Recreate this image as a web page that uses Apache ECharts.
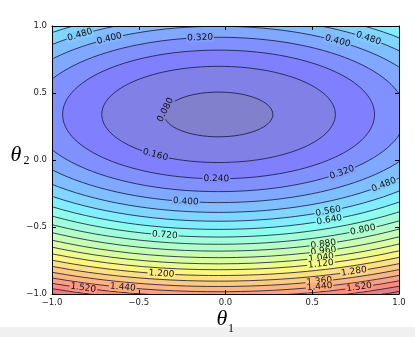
<!DOCTYPE html>
<html><head><meta charset="utf-8">
<script src="https://cdn.jsdelivr.net/npm/echarts@6/dist/echarts.min.js"></script>
<style>html,body{margin:0;padding:0;background:#fff}#c{width:415px;height:337px}</style>
</head><body><div id="c"></div>
<script>
// ---------- data ----------
const xTickValues = [-1.0, -0.5, 0.0, 0.5, 1.0];
const xTickLabels = ['\u22121.0', '\u22120.5', '0.0', '0.5', '1.0'];
const yTickValues = [-1.0, -0.5, 0.0, 0.5, 1.0];
const yTickLabels = ['\u22121.0', '\u22120.5', '0.0', '0.5', '1.0'];
const xName = ['\u03b8', '1'];
const yName = ['\u03b8', '2'];

// contour levels of the cost surface and the elliptical contour extents (theta units)
const lineLevels = [0.08, 0.16, 0.24, 0.32, 0.40, 0.48, 0.56, 0.64, 0.72, 0.80, 0.88,
                    0.96, 1.04, 1.12, 1.20, 1.28, 1.36, 1.44, 1.52, 1.60, 1.68];
const topLevel = 1.76;
const levelStep = 0.08;
const contourCenter = [-0.04, 0.34];
const semiAxisX = [0.313, 0.673, 0.899, 1.079, 1.233, 1.370, 1.494, 1.608, 1.715, 1.816, 1.911,
                   2.002, 2.089, 2.173, 2.253, 2.330, 2.406, 2.478, 2.549, 2.618, 2.685];
const semiAxisY = [0.167, 0.359, 0.480, 0.576, 0.658, 0.731, 0.797, 0.858, 0.915, 0.969, 1.020,
                   1.069, 1.115, 1.159, 1.202, 1.244, 1.284, 1.323, 1.360, 1.397, 1.433];

// inline contour labels: level and where they sit
const labelLevel  = [0.48, 0.40, 0.32, 0.40, 0.48, 0.08, 0.16, 0.24, 0.32, 0.48, 0.40, 0.56, 0.64,
                     0.72, 0.80, 0.88, 0.96, 1.04, 1.12, 1.20, 1.28, 1.36, 1.44, 1.52, 1.44, 1.52];
const labelTheta1 = [-0.867, -0.683, -0.147, 0.648, 0.827, -0.352, -0.406, -0.053, 0.683, 0.929, -0.233, 0.599, 0.599,
                     -0.354, 0.798, 0.568, 0.564, 0.554, 0.554, -0.374, 0.750, 0.545, 0.545, 0.775, -0.598, -0.829];
const labelTheta2 = [0.955, 0.918, 0.918, 0.888, 0.910, 0.375, 0.037, -0.149, -0.100, -0.194, -0.323, -0.390, -0.448,
                     -0.572, -0.527, -0.634, -0.677, -0.734, -0.784, -0.866, -0.846, -0.915, -0.952, -0.957, -0.965, -0.970];

// ---------- styling helpers ----------
function interp(t, pts) {
  for (let i = 1; i < pts.length; i++) {
    if (t <= pts[i][0]) {
      const a = pts[i - 1], b = pts[i];
      return a[1] + (b[1] - a[1]) * (t - a[0]) / (b[0] - a[0]);
    }
  }
  return pts[pts.length - 1][1];
}
function jet(t) {
  t = Math.max(0, Math.min(1, t));
  return [
    interp(t, [[0, 0], [0.35, 0], [0.66, 1], [0.89, 1], [1, 0.5]]),
    interp(t, [[0, 0], [0.125, 0], [0.375, 1], [0.64, 1], [0.91, 0], [1, 0]]),
    interp(t, [[0, 0.5], [0.11, 1], [0.34, 1], [0.65, 0], [1, 0]])
  ];
}
const ALPHA = 0.5;
function bandRGB(mid) {
  return jet(mid / topLevel).map(v => Math.round(255 * (1 - ALPHA) + 255 * v * ALPHA));
}
function rgb(c) { return 'rgb(' + c.join(',') + ')'; }
function bandColor(upper) { return rgb(bandRGB(upper - levelStep / 2)); }
function mixColor(L) {
  const a = bandRGB(L - levelStep / 2), b = bandRGB(L + levelStep / 2);
  return rgb(a.map((v, i) => Math.round((v + b[i]) / 2)));
}

const ellipseData = lineLevels.map((L, i) => [contourCenter[0], contourCenter[1], semiAxisX[i], semiAxisY[i], L, i]);
const labelData = labelLevel.map((L, i) => [labelTheta1[i], labelTheta2[i], lineLevels.findIndex(v => Math.abs(v - L) < 1e-6)]);

function clipRect(params) {
  const cs = params.coordSys;
  return { type: 'rect', shape: { x: cs.x, y: cs.y, width: cs.width, height: cs.height } };
}

const chart = echarts.init(document.getElementById('c'));
const axisCommon = {
  type: 'value', min: -1, max: 1, interval: 0.5, z: 10,
  axisLine: { show: true, onZero: false, lineStyle: { color: '#000', width: 1 } },
  axisTick: { show: true, inside: true, length: 4, lineStyle: { color: '#000', width: 1 } },
  splitLine: { show: false }
};
const labelFont = { fontSize: 8.5, fontFamily: 'DejaVu Sans', color: '#222' };
chart.setOption({
  animation: false,
  backgroundColor: '#fff',
  grid: { left: 52, top: 26, right: 16, bottom: 43, show: true, backgroundColor: bandColor(topLevel), borderWidth: 0 },
  xAxis: [
    Object.assign({}, axisCommon, { position: 'bottom',
      axisLabel: Object.assign({ margin: 4, formatter: v => xTickLabels[xTickValues.findIndex(t => Math.abs(t - v) < 1e-6)] }, labelFont) }),
    Object.assign({}, axisCommon, { position: 'top', axisLabel: { show: false } })
  ],
  yAxis: [
    Object.assign({}, axisCommon, { position: 'left',
      axisLabel: Object.assign({ margin: 5, formatter: v => yTickLabels[yTickValues.findIndex(t => Math.abs(t - v) < 1e-6)] }, labelFont) }),
    Object.assign({}, axisCommon, { position: 'right', axisLabel: { show: false } })
  ],
  series: [
    { // filled bands
      type: 'custom', z: 1, clip: true, silent: true,
      data: ellipseData,
      encode: { x: 0, y: 1 },
      renderItem(params, api) {
        const c = api.coord([api.value(0), api.value(1)]);
        const s = api.size([api.value(2), api.value(3)]);
        const L = api.value(4);
        return { type: 'group', clipPath: clipRect(params), children: [{
          type: 'ellipse', z2: Math.round((3 - L) * 100),
          shape: { cx: c[0], cy: c[1], rx: s[0], ry: s[1] },
          style: { fill: bandColor(L), stroke: null }
        }] };
      }
    },
    { // contour lines
      type: 'custom', z: 2, clip: true, silent: true,
      data: ellipseData,
      encode: { x: 0, y: 1 },
      renderItem(params, api) {
        const c = api.coord([api.value(0), api.value(1)]);
        const s = api.size([api.value(2), api.value(3)]);
        return { type: 'group', clipPath: clipRect(params), children: [{
          type: 'ellipse',
          shape: { cx: c[0], cy: c[1], rx: s[0], ry: s[1] },
          style: { fill: 'none', stroke: '#15153a', lineWidth: 0.8 }
        }] };
      }
    },
    { // inline labels
      type: 'custom', z: 3, clip: true, silent: true,
      data: labelData,
      encode: { x: 0, y: 1 },
      renderItem(params, api) {
        const k = api.value(2);
        const L = lineLevels[k];
        const c = api.coord(contourCenter);
        const s = api.size([semiAxisX[k], semiAxisY[k]]);
        const p = api.coord([api.value(0), api.value(1)]);
        let u = (p[0] - c[0]) / s[0], v = (p[1] - c[1]) / s[1];
        const n = Math.hypot(u, v); u /= n; v /= n;
        const x = c[0] + s[0] * u, y = c[1] + s[1] * v;
        const tx = -s[0] * v, ty = s[1] * u;
        let rot = -Math.atan2(ty, tx);
        while (rot > Math.PI / 2) rot -= Math.PI;
        while (rot < -Math.PI / 2) rot += Math.PI;
        return { type: 'group', clipPath: clipRect(params), children: [{
          type: 'text', x: x, y: y, rotation: rot,
          style: { text: L.toFixed(3), font: '9px "DejaVu Sans"', fill: '#111',
                   align: 'center', verticalAlign: 'middle',
                   backgroundColor: mixColor(L), padding: [0, 1] }
        }] };
      }
    }
  ],
  graphic: [
    { type: 'rect', z: -10, shape: { x: 0, y: 327, width: 415, height: 10 }, style: { fill: '#f0f0f0' } },
    { type: 'text', x: 16, y: 155, style: { text: yName[0], font: 'italic 22px "Liberation Serif"', fill: '#000', align: 'center', verticalAlign: 'middle' } },
    { type: 'text', x: 26.5, y: 161, style: { text: yName[1], font: '12px "Liberation Serif"', fill: '#000', align: 'center', verticalAlign: 'middle' } },
    { type: 'text', x: 222, y: 319, style: { text: xName[0], font: 'italic 22px "Liberation Serif"', fill: '#000', align: 'center', verticalAlign: 'middle' } },
    { type: 'text', x: 231, y: 329, style: { text: xName[1], font: '12px "Liberation Serif"', fill: '#000', align: 'center', verticalAlign: 'middle' } }
  ]
});
</script>
</body></html>
